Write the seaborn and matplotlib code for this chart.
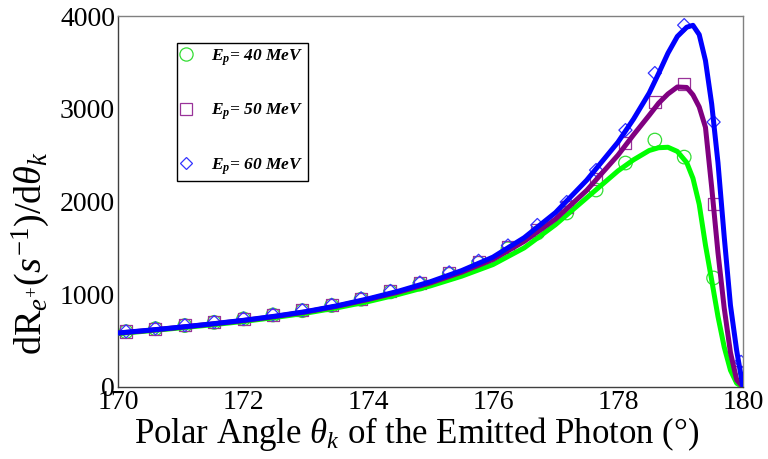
import matplotlib
matplotlib.use("Agg")
import matplotlib.pyplot as plt
from matplotlib.lines import Line2D
from matplotlib.ticker import MultipleLocator
import seaborn as sns

# theoretical curves
theta_curve = [170.0, 170.5, 171.0, 171.5, 172.0, 172.5, 173.0, 173.5, 174.0, 174.5,
               175.0, 175.5, 176.0, 176.5, 177.0, 177.5, 178.0, 178.25, 178.5, 178.65,
               178.8, 178.95, 179.1, 179.2, 179.3, 179.4, 179.5, 179.6, 179.7, 179.8,
               179.9, 180.0]
rate_40_curve = [575, 605, 637, 670, 706, 748, 795, 853, 920, 1000,
                 1090, 1195, 1320, 1500, 1750, 2040, 2330, 2450, 2550, 2580,
                 2585, 2540, 2420, 2250, 1970, 1530, 1150, 760, 430, 180,
                 40, 0]
rate_50_curve = [580, 610, 643, 678, 715, 758, 808, 870, 943, 1025,
                 1122, 1238, 1375, 1570, 1810, 2120, 2500, 2720, 2930, 3060,
                 3160, 3235, 3230, 3150, 3020, 2800, 2150, 1450, 850, 370,
                 75, 0]
rate_60_curve = [582, 612, 645, 680, 718, 762, 812, 875, 950, 1035,
                 1135, 1255, 1400, 1610, 1880, 2230, 2640, 2890, 3170, 3380,
                 3600, 3780, 3880, 3900, 3800, 3520, 3050, 2420, 1620, 880,
                 390, 0]

# discrete points
theta_pts = [170.13, 170.60, 171.07, 171.54, 172.01, 172.48, 172.95, 173.42, 173.89, 174.36,
             174.83, 175.30, 175.77, 176.24, 176.71, 177.18, 177.65, 178.12, 178.59, 179.06,
             179.53, 179.97]
rate_40_pts = [596, 628, 662, 696, 734, 776, 822, 878, 945, 1025,
               1110, 1215, 1335, 1490, 1660, 1876, 2124, 2415, 2663, 2479,
               1175, 75]
rate_50_pts = [598, 630, 664, 698, 736, 778, 826, 882, 950, 1030,
               1120, 1228, 1350, 1505, 1692, 1940, 2242, 2630, 3072, 3266,
               1973, 162]
rate_60_pts = [600, 632, 666, 700, 738, 780, 828, 885, 955, 1035,
               1125, 1235, 1360, 1525, 1746, 1994, 2339, 2770, 3385, 3902,
               2857, 270]

labels = [r"$\mathbfit{E_p}$= 40 MeV", r"$\mathbfit{E_p}$= 50 MeV", r"$\mathbfit{E_p}$= 60 MeV"]
line_colors = ["#00ff00", "#800080", "#0000ff"]
marker_colors = ["#33dd33", "#993399", "#3333ff"]
markers = ["o", "s", "D"]
marker_sizes = [95, 75, 45]

sns.set_style("white", {"text.color": "black", "axes.labelcolor": "black",
                        "xtick.color": "black", "ytick.color": "black"})
plt.rcParams["font.family"] = ["Liberation Serif", "DejaVu Serif"]
plt.rcParams["mathtext.fontset"] = "custom"
plt.rcParams["mathtext.rm"] = "Liberation Serif"
plt.rcParams["mathtext.it"] = "Liberation Serif:italic"
plt.rcParams["mathtext.bf"] = "Liberation Serif:bold"
plt.rcParams["mathtext.bfit"] = "Liberation Serif:bold:italic"

fig = plt.figure(figsize=(7.68, 4.59), dpi=100)
ax = fig.add_axes([0.1536, 0.157, 0.8138, 0.808])

pts = [rate_40_pts, rate_50_pts, rate_60_pts]
curves = [rate_40_curve, rate_50_curve, rate_60_curve]

for y, c, m, s in zip(pts, marker_colors, markers, marker_sizes):
    sns.scatterplot(x=theta_pts, y=y, marker=m, s=s, facecolor="none",
                    edgecolor=c, linewidth=0.9, ax=ax, zorder=2)

for y, c in zip(curves, line_colors):
    sns.lineplot(x=theta_curve, y=y, color=c, linewidth=3.6, ax=ax, zorder=3)

ax.set_xlim(170, 180)
ax.set_ylim(0, 4000)
ax.xaxis.set_major_locator(MultipleLocator(2))
ax.xaxis.set_minor_locator(MultipleLocator(0.5))
ax.yaxis.set_major_locator(MultipleLocator(1000))
ax.yaxis.set_minor_locator(MultipleLocator(200))
ax.tick_params(which="both", direction="in", top=False, right=False,
               labelsize=20, pad=2, color="#404040", labelcolor="black")
ax.tick_params(which="major", length=7, width=0.8)
ax.tick_params(which="minor", length=4, width=0.6)

for side in ("left", "bottom"):
    ax.spines[side].set_color("#404040")
for side in ("top", "right"):
    ax.spines[side].set_color("#808080")
for sp in ax.spines.values():
    sp.set_linewidth(1.0)

ax.set_xlabel(r"Polar Angle $\theta_k$ of the Emitted Photon (°)", fontsize=25, labelpad=0)
ax.xaxis.set_label_coords(0.477, -0.075)
ax.set_ylabel(r"dR$_{e^{+}}$($s^{-1}$)/d$\theta_k$", fontsize=27.5)
ax.yaxis.set_label_coords(-0.105, 0.36)

handles = [Line2D([], [], marker=m, linestyle="none", markerfacecolor="none",
                  markeredgecolor=c, markersize=ms, markeredgewidth=0.9)
           for m, c, ms in zip(markers, marker_colors, [9.5, 8, 6.5])]
leg = ax.legend(handles, labels, loc="upper left", bbox_to_anchor=(0.094, 0.928),
                borderaxespad=0, frameon=True, fancybox=False, framealpha=1,
                edgecolor="black", handlelength=0.6, handletextpad=1.15,
                labelspacing=1.95, borderpad=0.25,
                prop={"weight": "bold", "style": "italic", "size": 12.5})
leg.get_frame().set_linewidth(1.0)

fig.savefig("out.png", dpi=100)
